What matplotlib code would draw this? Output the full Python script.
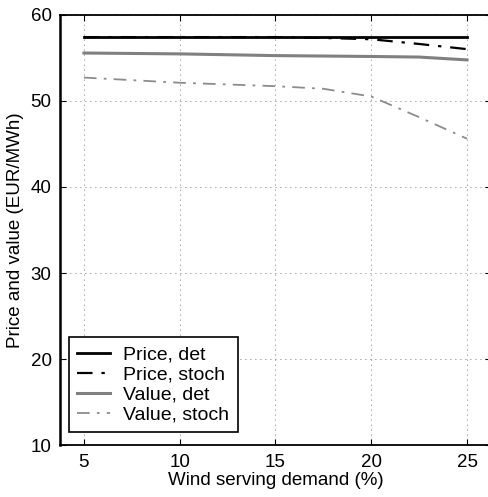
import matplotlib
matplotlib.use("Agg")
import matplotlib.pyplot as plt

# Share of demand served by wind (%)
wind_share = [5, 7.5, 10, 12.5, 15, 17.5, 20, 22.5, 25]

# Average electricity price and wind value (EUR/MWh)
price_det = [57.4, 57.4, 57.4, 57.4, 57.4, 57.4, 57.4, 57.4, 57.4]
price_stoch = [57.4, 57.4, 57.4, 57.4, 57.4, 57.3, 57.15, 56.6, 56.0]
value_det = [55.55, 55.5, 55.45, 55.35, 55.25, 55.2, 55.15, 55.08, 54.75]
value_stoch = [52.7, 52.4, 52.1, 51.9, 51.7, 51.4, 50.5, 48.1, 45.6]

series_labels = ["Price, det", "Price, stoch", "Value, det", "Value, stoch"]
x_ticks = [5, 10, 15, 20, 25]
y_ticks = [10, 20, 30, 40, 50, 60]

plt.rcParams["font.family"] = ["Liberation Sans", "DejaVu Sans"]
plt.rcParams["font.size"] = 13.5

W, H = 489, 497
fig = plt.figure(figsize=(W / 100, H / 100), dpi=100)
left, right, top, bottom = 60, 491, 14.7, 445.3
ax = fig.add_axes([left / W, 1 - bottom / H, (right - left) / W, (bottom - top) / H])

dashdot = (0, (7, 4, 1.5, 4))
ax.plot(wind_share, price_det, color="black", lw=2.0, ls="-", label=series_labels[0])
ax.plot(wind_share, price_stoch, color="black", lw=1.6, ls=dashdot, label=series_labels[1])
ax.plot(wind_share, value_det, color="#808080", lw=2.2, ls="-", label=series_labels[2])
ax.plot(wind_share, value_stoch, color="#8c8c8c", lw=1.3, ls=dashdot, label=series_labels[3])

ax.set_xlim(3.75, 26.25)
ax.set_ylim(10, 60)
ax.set_xticks(x_ticks)
ax.set_yticks(y_ticks)
ax.tick_params(direction="in", length=4, width=0.8, top=True, right=True, pad=6)
ax.grid(True, ls=(0, (1, 5)), color="black", lw=0.6, alpha=0.7)

ax.spines["left"].set_linewidth(1.8)
ax.spines["bottom"].set_linewidth(1.3)
ax.spines["top"].set_linewidth(1.3)
ax.spines["right"].set_visible(False)

ax.set_xlabel("Wind serving demand (%)", labelpad=1)
ax.set_ylabel("Price and value (EUR/MWh)", labelpad=5)

leg = ax.legend(loc="lower left", bbox_to_anchor=(0.02, 0.03), frameon=True, fancybox=False,
                edgecolor="black", framealpha=1, borderpad=0.45, labelspacing=0.12,
                handlelength=1.7, handletextpad=0.65, borderaxespad=0, fontsize=14)
leg.get_frame().set_linewidth(1.2)

fig.savefig("out.png", dpi=100)
